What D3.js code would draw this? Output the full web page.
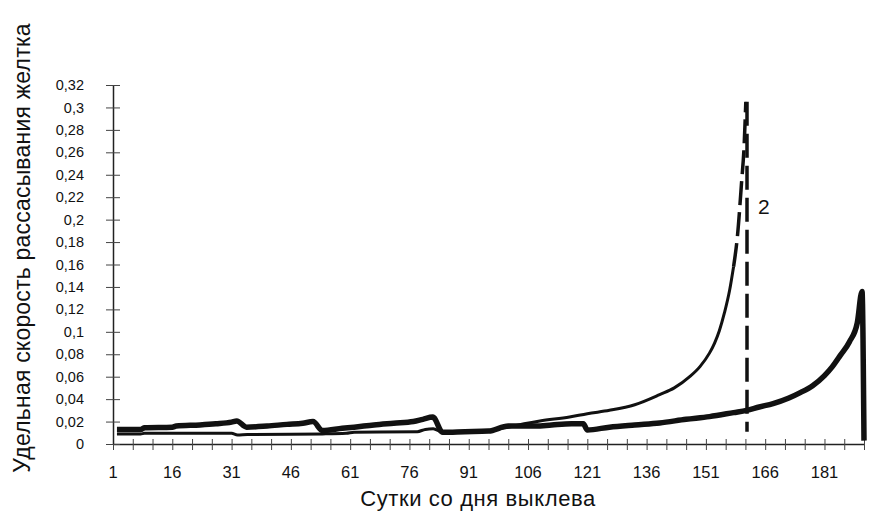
<!DOCTYPE html>
<html>
<head>
<meta charset="utf-8">
<script src="https://cdn.jsdelivr.net/npm/d3@7"></script>
<style>
  body { margin: 0; background: #fff; }
  text { font-family: "Liberation Sans", Arial, sans-serif; fill: #111; }
</style>
</head>
<body>
<div id="chart"></div>
<script>
var width = 880;
var height = 513;

// series 1 (thick line)
var days1 = [2, 8, 9, 16, 17, 23, 27, 31, 32.3, 34.8, 40, 45, 49, 51.6, 54, 59, 62, 67, 72, 77, 79.4, 81.9, 84.4,
  90, 96, 101, 108, 112, 117, 120, 121, 126.6, 133, 139.3, 146, 151.9, 158, 161.3, 164.5, 168, 172, 175,
  178, 181, 183, 185, 187.3, 189.3, 190.5, 191];
var values1 = [0.013, 0.013, 0.0145, 0.015, 0.016, 0.017, 0.018, 0.0195, 0.0205, 0.015, 0.016, 0.0175, 0.0185, 0.020, 0.012, 0.014, 0.015, 0.017, 0.0185, 0.020, 0.022, 0.024, 0.0105,
  0.011, 0.0115, 0.016, 0.016, 0.017, 0.018, 0.018, 0.0125, 0.015, 0.017, 0.0188, 0.022, 0.0244, 0.028, 0.030, 0.033, 0.036, 0.041, 0.046,
  0.052, 0.061, 0.069, 0.079, 0.091, 0.108, 0.136, 0.003];

// series 2 (thin line, label "2")
var days2 = [2, 8, 9, 31, 32.5, 35, 54, 60, 62, 78, 80, 82, 84.4, 90, 96, 101, 105, 109, 116.5, 121, 126.6, 133,
  139.3, 143, 146.9, 149.5, 151.9, 153.2, 154.4, 155.7, 157, 158, 159, 160, 160.7, 161.1];
var values2 = [0.009, 0.009, 0.0095, 0.0095, 0.008, 0.0085, 0.009, 0.0095, 0.0105, 0.011, 0.013, 0.0135, 0.0105, 0.011, 0.012, 0.015, 0.018, 0.0205, 0.024, 0.027, 0.030, 0.035,
  0.044, 0.050, 0.060, 0.069, 0.081, 0.090, 0.101, 0.117, 0.137, 0.158, 0.186, 0.232, 0.268, 0.305];
var dashFromDay = 158;
var dropDay = 161.4;
var dropValue = 0.011;

var xTickLabels = [1, 16, 31, 46, 61, 76, 91, 106, 121, 136, 151, 166, 181];
var xMinorTicks = d3.range(1, 192, 5);
var yTicks = [0, 0.02, 0.04, 0.06, 0.08, 0.1, 0.12, 0.14, 0.16, 0.18, 0.2, 0.22, 0.24, 0.26, 0.28, 0.3, 0.32];
var yTickLabels = ["0", "0,02", "0,04", "0,06", "0,08", "0,1", "0,12", "0,14", "0,16", "0,18", "0,2", "0,22", "0,24", "0,26", "0,28", "0,3", "0,32"];

var yTitle = "Удельная скорость рассасывания желтка";
var xTitle = "Сутки со дня выклева";

var svg = d3.select("#chart").append("svg")
  .attr("width", width)
  .attr("height", height)

var x = d3.scaleLinear().domain([1, 191]).range([113, 864])
var y = d3.scaleLinear().domain([0, 0.32]).range([444, 85])

// x axis: crossing ticks every 5 days
var xAxis = svg.append("g")
  .attr("transform", "translate(0," + y(0) + ")")
  .call(d3.axisBottom(x).tickValues(xMinorTicks).tickSize(11).tickFormat("").tickSizeOuter(0))
xAxis.select(".domain").attr("stroke", "#222").attr("stroke-width", 1.5)
xAxis.selectAll(".tick line").attr("y1", -5).attr("y2", 6).attr("stroke", "#444")

svg.selectAll(".xlab")
  .data(xTickLabels)
  .enter().append("text")
  .attr("class", "xlab")
  .attr("x", function(d) { return x(d) })
  .attr("y", 478)
  .attr("text-anchor", "middle")
  .attr("font-size", "16.5px")
  .text(function(d) { return d })

// y axis
var yAxis = svg.append("g")
  .attr("transform", "translate(" + x(1) + ",0)")
  .call(d3.axisLeft(y).tickValues(yTicks).tickSize(14).tickFormat("").tickSizeOuter(0))
yAxis.select(".domain").attr("stroke", "#222").attr("stroke-width", 1.5)
yAxis.selectAll(".tick line").attr("x1", -7).attr("x2", 7).attr("stroke", "#444")

svg.selectAll(".ylab")
  .data(yTicks)
  .enter().append("text")
  .attr("class", "ylab")
  .attr("x", 84)
  .attr("y", function(d) { return y(d) })
  .attr("dy", "0.35em")
  .attr("text-anchor", "end")
  .attr("font-size", "14.5px")
  .text(function(d, i) { return yTickLabels[i] })

var line = d3.line()
  .x(function(d) { return x(d[0]) })
  .y(function(d) { return y(d[1]) })
  .curve(d3.curveMonotoneX)

var pts1 = days1.map(function(d, i) { return [d, values1[i]] })
var pts2 = days2.map(function(d, i) { return [d, values2[i]] })
var solid2 = pts2.filter(function(d) { return d[0] <= dashFromDay })
var dashed2 = pts2.filter(function(d) { return d[0] >= dashFromDay })

svg.append("path")
  .attr("d", line(solid2))
  .attr("fill", "none")
  .attr("stroke", "#111")
  .attr("stroke-width", 3)

svg.append("path")
  .attr("d", line(dashed2))
  .attr("fill", "none")
  .attr("stroke", "#111")
  .attr("stroke-width", 3.5)
  .attr("stroke-dasharray", "24,7")

svg.append("line")
  .attr("x1", x(dropDay))
  .attr("x2", x(dropDay))
  .attr("y1", y(values2[values2.length - 1]))
  .attr("y2", y(dropValue))
  .attr("stroke", "#111")
  .attr("stroke-width", 3.5)
  .attr("stroke-dasharray", "24,8")

svg.append("path")
  .attr("d", line(pts1))
  .attr("fill", "none")
  .attr("stroke", "#111")
  .attr("stroke-width", 5.5)
  .attr("stroke-linejoin", "miter")

svg.append("text")
  .attr("x", 758)
  .attr("y", 214)
  .attr("font-size", "21px")
  .text("2")

svg.append("text")
  .attr("transform", "translate(30,248) rotate(-90)")
  .attr("text-anchor", "middle")
  .attr("font-size", "23px")
  .attr("letter-spacing", "0.2px")
  .text(yTitle)

svg.append("text")
  .attr("x", 478)
  .attr("y", 506)
  .attr("text-anchor", "middle")
  .attr("font-size", "22px")
  .attr("letter-spacing", "0.6px")
  .text(xTitle)
</script>
</body>
</html>
